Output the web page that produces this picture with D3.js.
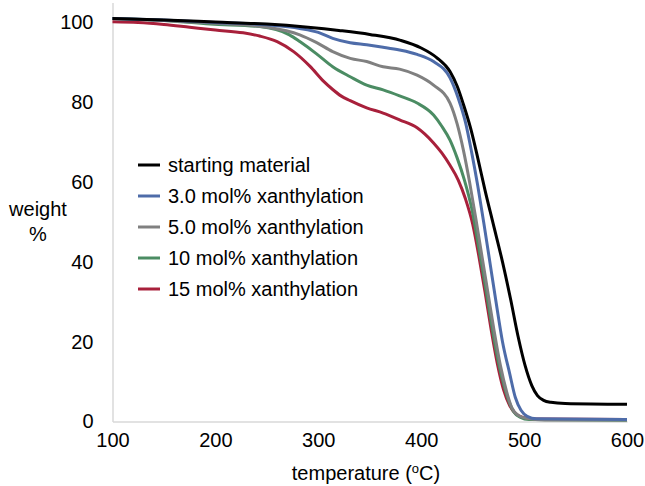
<!DOCTYPE html>
<html>
<head>
<meta charset="utf-8">
<script src="https://cdn.jsdelivr.net/npm/d3@7"></script>
<style>
    body { margin: 0; background: #fff; }
    text { font-family: "Liberation Sans", Arial, Helvetica, sans-serif; fill: #000; }
</style>
</head>
<body>
<div class="chart"></div>
<script>
// series names and colours
const seriesNames = ["starting material", "3.0 mol% xanthylation", "5.0 mol% xanthylation",
    "10 mol% xanthylation", "15 mol% xanthylation"];
const seriesColors = ["#000000", "#4e6ca9", "#808080", "#4b8c63", "#a8203b"];

// [temperature, weight %]
const starting = [[100, 101.0], [150, 100.6], [200, 100.1], [250, 99.6], [290, 98.8], [320, 98.0],
    [350, 97.0], [380, 95.5], [400, 93.6], [415, 91.2], [428, 87.7], [435, 84], [441, 79.5],
    [448, 73.5], [455, 66], [462, 58], [470, 49.5], [479, 40], [487, 30.5], [494, 21.5],
    [501, 14], [507.5, 9], [513, 6.5], [519, 5.3], [526, 4.8], [540, 4.5], [600, 4.3]];
const xan3 = [[100, 101.0], [150, 100.6], [200, 100.0], [250, 99.4], [282, 98.5], [300, 97.5],
    [314, 96.0], [331, 94.9], [347, 94.4], [363, 93.8], [379, 93.1], [396, 92.0], [412, 90.2],
    [428, 86.1], [436, 81], [443, 75], [449, 67.5], [455, 59], [461, 49.5], [467, 39.5],
    [473, 29.5], [479, 20], [486, 12], [491.5, 6], [497, 2.8], [503, 1.3], [512, 0.7], [600, 0.5]];
const xan5 = [[100, 101.0], [150, 100.5], [200, 99.8], [250, 98.8], [282, 96.9], [298, 95.0],
    [314, 92.7], [331, 91.0], [347, 90.2], [363, 88.9], [379, 88.3], [396, 86.8], [412, 84.3],
    [428, 79.8], [435, 74.5], [441, 68], [447, 60], [453, 51], [459, 41.5], [465, 32], [471, 22.5],
    [477, 14], [483, 7.5], [488, 3.5], [494, 1.6], [502, 0.8], [520, 0.4], [600, 0.4]];
const xan10 = [[100, 101.0], [150, 100.5], [195, 99.6], [243, 99.0], [272, 96.9], [282, 95.2],
    [298, 92.2], [314, 88.9], [331, 86.4], [347, 84.3], [363, 83.1], [379, 81.6], [396, 79.8],
    [412, 76.8], [420, 74], [428, 70.5], [435, 66], [442, 60.5], [449, 53.5], [455, 45], [461, 36],
    [467, 26.5], [473, 17.5], [479, 10.4], [485, 5.2], [490, 2.4], [496, 1.1], [505, 0.5], [600, 0.3]];
const xan15 = [[100, 100.2], [125, 100.0], [150, 99.5], [175, 98.8], [200, 98.1], [227, 97.4],
    [243, 96.6], [260, 95.2], [276, 92.7], [292, 89.0], [305, 85.3], [314, 83.2], [322, 81.6],
    [331, 80.4], [347, 78.6], [363, 77.3], [379, 75.6], [396, 73.6], [412, 69.8], [420, 67.3],
    [428, 64.2], [436, 60.5], [443, 55.8], [450, 49.5], [456, 41.5], [462, 32.5], [468, 23],
    [474, 14.5], [480, 8], [486, 4], [492, 1.9], [499, 1.0], [510, 0.6], [600, 0.5]];
const seriesData = [starting, xan3, xan5, xan10, xan15];

const xTicks = [100, 200, 300, 400, 500, 600];
const yTicks = [0, 20, 40, 60, 80, 100];

const width = 645;
const height = 486;

const svg = d3.select('.chart')
    .append('svg')
    .attr('width', width)
    .attr('height', height);

const x = d3.scaleLinear().domain([100, 600]).range([112.5, 627]);
const y = d3.scaleLinear().domain([0, 105]).range([421.5, 2.5]);

// axes: light grey lines, no tick marks
const xAxis = svg.append('g')
    .attr('transform', 'translate(0,' + y(0) + ')')
    .call(d3.axisBottom(x).tickValues(xTicks).tickSize(0).tickPadding(11));
const yAxis = svg.append('g')
    .attr('transform', 'translate(' + x(100) + ',0)')
    .call(d3.axisLeft(y).tickValues(yTicks).tickSize(0).tickPadding(19));

[xAxis, yAxis].forEach(function (ax) {
    ax.select('.domain').attr('stroke', '#d9d9d9').attr('stroke-width', 1.5);
    ax.selectAll('text')
        .attr('font-size', '20px')
        .attr('font-family', '"Liberation Sans", Arial, sans-serif')
        .attr('fill', '#000');
});

const line = d3.line()
    .x(d => x(d[0]))
    .y(d => y(d[1]))
    .curve(d3.curveMonotoneX);

// draw from last to first so black ends on top like the original
const order = [4, 3, 2, 1, 0];
svg.selectAll('.series')
    .data(order)
    .enter()
    .append('path')
    .attr('class', 'series')
    .attr('d', i => line(seriesData[i]))
    .attr('fill', 'none')
    .attr('stroke', i => seriesColors[i])
    .attr('stroke-width', 3)
    .attr('stroke-linejoin', 'round');

// legend
const legend = svg.append('g').attr('transform', 'translate(138,165)');
const rows = legend.selectAll('g')
    .data(seriesNames)
    .enter()
    .append('g')
    .attr('transform', (d, i) => 'translate(0,' + (i * 31) + ')');
rows.append('line')
    .attr('x1', 0).attr('x2', 22)
    .attr('stroke', (d, i) => seriesColors[i])
    .attr('stroke-width', 3);
rows.append('text')
    .attr('x', 30)
    .attr('dy', '0.35em')
    .attr('font-size', '20px')
    .text(d => d);

// axis titles
svg.append('text')
    .attr('x', 38).attr('y', 216)
    .attr('text-anchor', 'middle')
    .attr('font-size', '20px')
    .text('weight');
svg.append('text')
    .attr('x', 38).attr('y', 241)
    .attr('text-anchor', 'middle')
    .attr('font-size', '20px')
    .text('%');

const xTitle = svg.append('text')
    .attr('x', 366).attr('y', 480)
    .attr('text-anchor', 'middle')
    .attr('font-size', '20px');
xTitle.append('tspan').text('temperature (');
xTitle.append('tspan').attr('font-size', '13px').attr('dy', -7).text('o');
xTitle.append('tspan').attr('dy', 7).text('C)');
</script>
</body>
</html>
